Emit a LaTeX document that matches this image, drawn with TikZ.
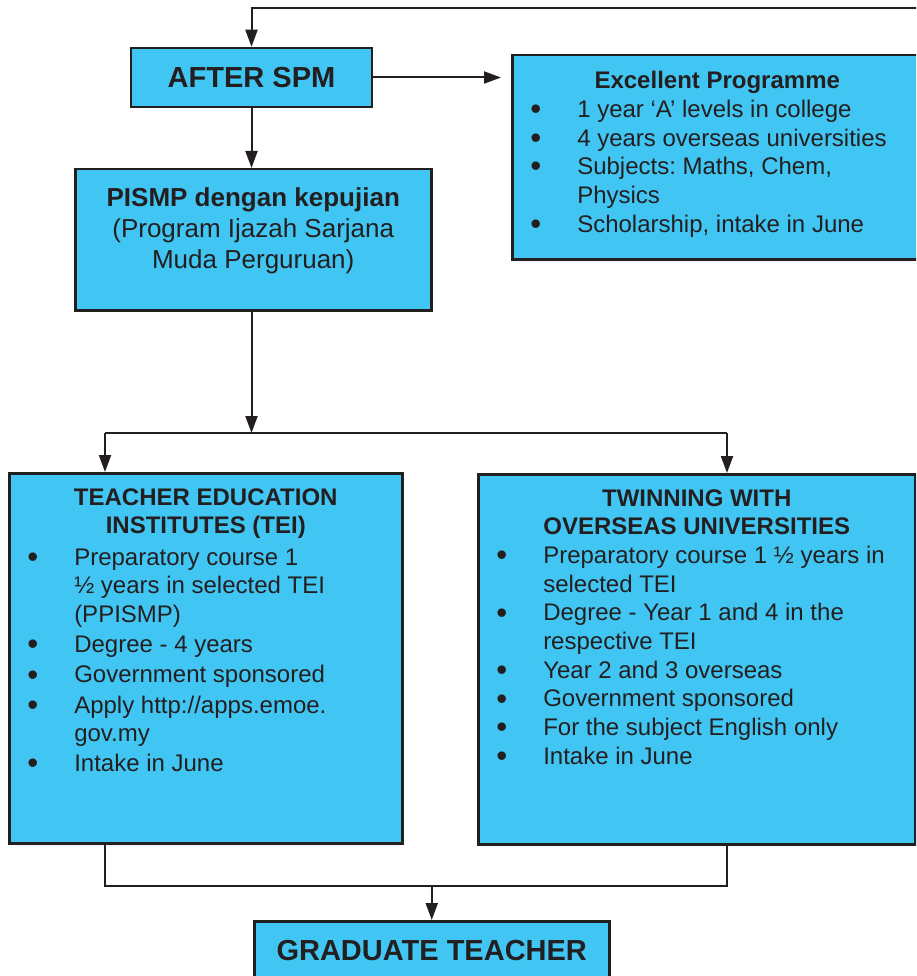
\documentclass[tikz,border=0pt]{standalone}
\usepackage{fontspec}
\setmainfont{Liberation Sans}
\usetikzlibrary{arrows.meta}
\definecolor{boxblue}{RGB}{65,198,243}
\definecolor{linegray}{RGB}{35,31,32}
\frenchspacing
\newcommand\bigbullet{\raisebox{-2.2pt}{\scalebox{1.3}{\textbullet}}}
\newcommand\itm[1]{\par\hangindent=47pt\hangafter=1\noindent\makebox[47pt][l]{\bigbullet}#1}
\begin{document}
\begin{tikzpicture}[x=1pt, y=-1pt, >={Triangle[length=17pt,width=12pt]}]
        \tikzstyle{every node}=[text=linegray, font=\fontsize{24}{28.7}\selectfont]
        \tikzstyle{bluebox}=[draw=linegray, fill=boxblue, line width=2.5pt, inner sep=0pt]
        \tikzstyle{conn}=[draw=linegray, line width=2pt]
        \useasboundingbox (0,0) rectangle (916,976);
        \clip (0,0) rectangle (916,976);
        \node [bluebox, minimum width=241pt, minimum height=59pt, font=\fontsize{29}{34}\selectfont\bfseries] (spm) at (251.5,77.5) {AFTER SPM};
        \node [bluebox, anchor=north west] (exc) at (511,54) {\parbox[c][204pt][t]{410pt}{\vspace*{16pt}\centering\bfseries Excellent Programme\par\raggedright\mdseries\leftskip=18pt
            \itm{1 year ‘A’ levels in college}
            \itm{4 years overseas universities}
            \itm{Subjects: Maths, Chem,\newline Physics}
            \itm{Scholarship, intake in June}}};
        \node [bluebox, anchor=north west, font=\fontsize{26}{31}\selectfont] (pismp) at (74,168) {\parbox[c][141pt][t]{356pt}{\vspace*{18pt}\centering\textbf{PISMP dengan kepujian}\\(Program Ijazah Sarjana\\Muda Perguruan)}};
        \node [bluebox, anchor=north west, font=\fontsize{24}{28.3}\selectfont] (tei) at (8,472) {\parbox[c][370pt][t]{393pt}{\parskip=2pt\vspace*{13pt}\centering\bfseries TEACHER EDUCATION\\INSTITUTES (TEI)\par\vspace{2pt}\raggedright\mdseries\leftskip=18pt
            \itm{Preparatory course 1\newline ½ years in selected TEI\newline (PPISMP)}
            \itm{Degree - 4 years}
            \itm{Government sponsored}
            \itm{Apply http://apps.emoe.\newline gov.my}
            \itm{Intake in June}}};
        \node [bluebox, anchor=north west] (twin) at (477,473) {\parbox[c][370pt][t]{437pt}{\vspace*{15pt}\centering\bfseries TWINNING WITH\\OVERSEAS UNIVERSITIES\par\raggedright\mdseries\leftskip=18pt
            \itm{Preparatory course 1 ½ years in\newline selected TEI}
            \itm{Degree - Year 1 and 4 in the\newline respective TEI}
            \itm{Year 2 and 3 overseas}
            \itm{Government sponsored}
            \itm{For the subject English only}
            \itm{Intake in June}}};
        \node [bluebox, anchor=north west, minimum width=355pt, minimum height=58pt, font=\fontsize{29}{34}\selectfont\bfseries] (grad) at (253,920) {GRADUATE TEACHER};
        \coordinate (loopin) at (930,8);
        \coordinate (splitl) at (105,433);
        \coordinate (splitr) at (727,433);
        \coordinate (joinl) at (105,886);
        \coordinate (joinr) at (727,886);
        \draw [conn,->] (loopin) -| (spm.north);
        \draw [conn,->, shorten >=10pt] (spm.east) -- (spm.east -| exc.west);
        \draw [conn,->] (spm.south) -- (spm.south |- pismp.north);
        \draw [conn,->] (spm.south |- pismp.south) -- (spm.south |- splitl);
        \draw [conn] (splitl) -- (splitr);
        \draw [conn,->] (splitl) -- (splitl |- tei.north);
        \draw [conn,->] (splitr) -- (splitr |- twin.north);
        \draw [conn] (joinl |- tei.south) -- (joinl) -- (joinr) -- (joinr |- twin.south);
        \draw [conn,->] (grad.north |- joinl) -- (grad.north);
    \end{tikzpicture}
\end{document}
